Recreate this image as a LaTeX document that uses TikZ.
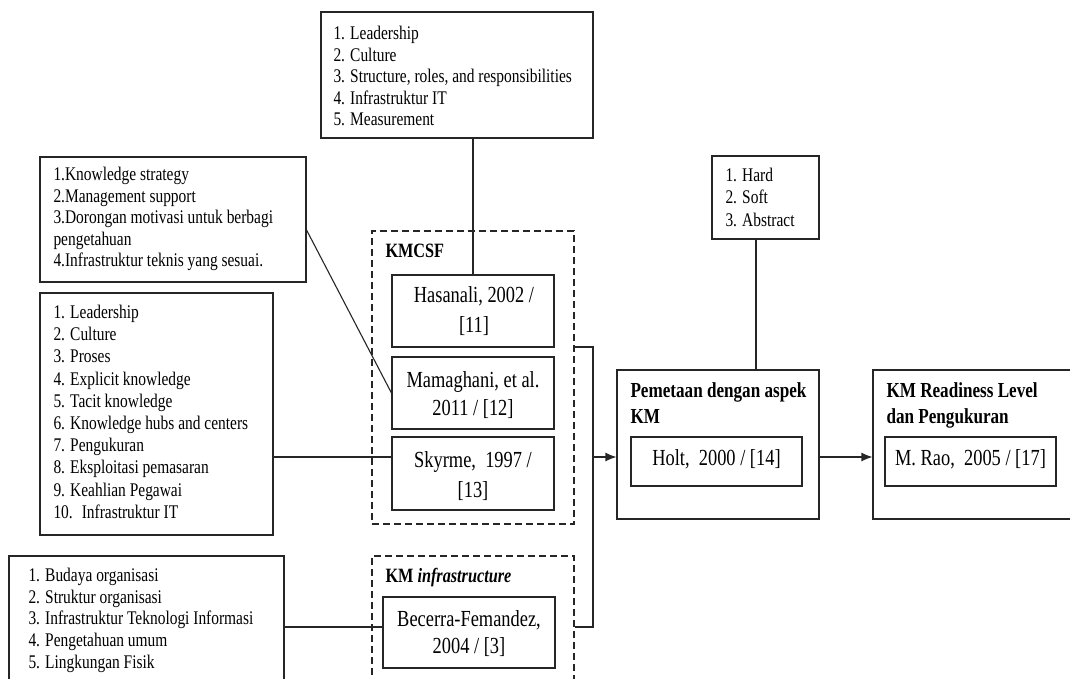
\documentclass[tikz,border=0pt]{standalone}
\usepackage{fontspec}
\setmainfont{Liberation Serif}[FakeStretch=0.8]
\usetikzlibrary{arrows.meta,calc}
\begin{document}
\begin{tikzpicture}[x=1pt,y=-1pt,
  line width=1pt,
  box/.style={draw=black!85, line width=1.1pt, inner sep=0pt, minimum width=#1},
  dbox/.style={draw=black!85, line width=1.1pt, dash pattern=on 7pt off 4pt, inner sep=0pt, minimum width=#1},
  conn/.style={draw=black!85, line width=1.1pt},
  arr/.style={conn, -{Latex[length=11pt,width=9pt]}},
  listtxt/.style={anchor=north west, inner sep=0pt, align=left, font=\fontsize{19.3}{#1}\selectfont},
  citetxt/.style={anchor=north, inner sep=0pt, align=center, font=\fontsize{23}{#1}\selectfont},
  onetxt/.style={anchor=base, inner sep=0pt, font=\fontsize{23}{28}\selectfont},
  titletxt/.style={anchor=north west, inner sep=0pt, align=left, font=\fontsize{21.4}{26}\selectfont\bfseries},
  grptxt/.style={anchor=base west, inner sep=0pt, font=\fontsize{20.3}{24}\selectfont\bfseries}
]
\useasboundingbox (0,0) rectangle (1070,679);

% boxes
\node[box=272, minimum height=126] (top) at (457,75) {};
\node[box=266, minimum height=125] (b2) at (173,219.5) {};
\node[box=233, minimum height=242] (b3) at (156.5,414) {};
\node[box=275, minimum height=134] (b4) at (146.5,623) {};
\node[dbox=202, minimum height=293] (kmcsf) at (473,377.5) {};
\node[box=162, minimum height=72] (has) at (473,311) {};
\node[box=162, minimum height=72] (mam) at (473,393) {};
\node[box=162, minimum height=73] (sky) at (473,473.5) {};
\node[dbox=202, minimum height=144] (infra) at (473,628) {};
\node[box=172, minimum height=71] (bec) at (469,632.5) {};
\node[box=107, minimum height=83] (hard) at (765.5,197.5) {};
\node[box=202, minimum height=149] (pem) at (718,444.5) {};
\node[box=171, minimum height=49] (holt) at (716.5,461.5) {};
\node[box=202, minimum height=149] (kmr) at (974,444.5) {};
\node[box=171, minimum height=49] (rao) at (970.5,461.5) {};

% texts
\node[listtxt=21.6] (toptxt) at (333,24) {\rule{0pt}{15pt}1. Leadership\\2. Culture\\3. Structure, roles, and responsibilities\\4. Infrastruktur IT\\5. Measurement};
\node[listtxt=21.6] (b2txt) at (53,165) {\rule{0pt}{15pt}1.Knowledge strategy\\2.Management support\\3.Dorongan motivasi untuk berbagi\\pengetahuan\\4.Infrastruktur teknis yang sesuai.};
\node[listtxt=22.2] (b3txt) at (53,303) {\rule{0pt}{15pt}1. Leadership\\2. Culture\\3. Proses\\4. Explicit knowledge\\5. Tacit knowledge\\6. Knowledge hubs and centers\\7. Pengukuran\\8. Eksploitasi pemasaran\\9. Keahlian Pegawai\\10. \ Infrastruktur IT};
\node[listtxt=21.7] (b4txt) at (28,566) {\rule{0pt}{15pt}1. Budaya organisasi\\2. Struktur organisasi\\3. Infrastruktur Teknologi Informasi\\4. Pengetahuan umum\\5. Lingkungan Fisik};
\node[listtxt=22.3] (hardtxt) at (725,166) {\rule{0pt}{15pt}1. Hard\\2. Soft\\3. Abstract};

\node[grptxt] (kmcsftxt) at (385,257) {KMCSF};
\node[grptxt] (infratxt) at (385,582) {KM \textit{infrastructure}};

\node[citetxt=30] (hastxt) at (474,285) {\rule{0pt}{17pt}Hasanali, 2002 /\\{}[11]};
\node[citetxt=27.6] (mamtxt) at (473,370) {\rule{0pt}{17pt}Mamaghani, et al.\\2011 / [12]};
\node[citetxt=30] (skytxt) at (473,450) {\rule{0pt}{17pt}Skyrme, \ 1997 /\\{}[13]};
\node[citetxt=26.5] (bectxt) at (469,609) {\rule{0pt}{17pt}Becerra-Femandez,\\2004 / [3]};

\node[titletxt] (pemtxt) at (630,381) {\rule{0pt}{16pt}Pemetaan dengan aspek\\KM};
\node[titletxt] (kmrtxt) at (886,381) {\rule{0pt}{16pt}KM Readiness Level\\dan Pengukuran};
\node[onetxt] (holttxt) at (716.5,465) {Holt, \ 2000 / [14]};
\node[onetxt] (raotxt) at (970.5,465) {M. Rao, \ 2005 / [17]};

% connectors
\draw[conn] (has.north) -- (has.north |- top.south);
\draw[conn] ([yshift=-10.5pt]b2.east) -- (mam.west);
\coordinate (skyin) at ([yshift=16.5pt]sky.west);
\draw[conn] (b3.east |- skyin) -- (skyin);
\coordinate (becin) at ([yshift=5.5pt]bec.west);
\draw[conn] (b4.east |- becin) -- (becin);

\coordinate (j1) at (593,347);
\coordinate (j2) at (593,627);
\coordinate (j3) at (593,457);
\draw[conn] (kmcsf.east |- j1) -- (j1) -- (j2) -- (infra.east |- j2);
\draw[arr] (j3) -- (pem.west |- j3);
\draw[arr] (pem.east |- j3) -- (kmr.west |- j3);
\coordinate (hx) at (756,0);
\draw[conn] (hard.south -| hx) -- (pem.north -| hx);
\end{tikzpicture}
\end{document}
